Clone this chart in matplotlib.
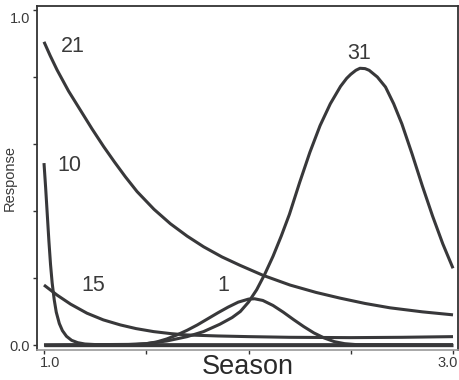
import matplotlib
matplotlib.use("Agg")
import matplotlib.pyplot as plt
from matplotlib.transforms import ScaledTranslation

plt.rcParams['font.family'] = ['Liberation Sans', 'DejaVu Sans']

# Response curves over the season (x = season, y = response)
x21 = [1.0, 1.03, 1.064, 1.12, 1.178, 1.235, 1.292, 1.345, 1.398, 1.455, 1.538, 1.618,
       1.70, 1.781, 1.87, 1.958, 2.071, 2.203, 2.33, 2.447, 2.57, 2.692, 2.85, 3.0]
y21 = [0.905, 0.864, 0.821, 0.758, 0.701, 0.645, 0.592, 0.546, 0.502, 0.458, 0.405, 0.362,
       0.325, 0.293, 0.263, 0.238, 0.208, 0.179, 0.157, 0.140, 0.124, 0.111, 0.099, 0.090]

x10 = [1.0, 1.008, 1.016, 1.024, 1.032, 1.04, 1.05, 1.06, 1.075, 1.09, 1.11, 1.135,
       1.165, 1.2, 1.26, 3.0]
y10 = [0.543, 0.47, 0.39, 0.31, 0.24, 0.185, 0.135, 0.098, 0.064, 0.043, 0.026, 0.014,
       0.007, 0.003, 0.001, 0.001]

x15 = [1.0, 1.064, 1.13, 1.21, 1.29, 1.373, 1.45, 1.536, 1.62, 1.699, 1.85, 2.0,
       2.2, 2.5, 2.75, 3.0]
y15 = [0.179, 0.149, 0.122, 0.095, 0.075, 0.060, 0.049, 0.040, 0.034, 0.030, 0.027, 0.025,
       0.023, 0.022, 0.023, 0.025]

x1 = [1.0, 1.45, 1.5, 1.55, 1.6, 1.65, 1.7, 1.75, 1.8, 1.85, 1.9, 1.95, 2.0, 2.03,
      2.07, 2.12, 2.17, 2.22, 2.27, 2.32, 2.37, 2.42, 2.47, 2.53, 3.0]
y1 = [0.0, 0.002, 0.004, 0.009, 0.018, 0.030, 0.044, 0.060, 0.078, 0.096, 0.113, 0.128,
      0.137, 0.138, 0.133, 0.118, 0.098, 0.076, 0.055, 0.036, 0.021, 0.010, 0.004, 0.001, 0.0]

x31 = [1.0, 1.4, 1.5, 1.6, 1.7, 1.78, 1.86, 1.92, 1.96, 2.0, 2.04, 2.08, 2.12, 2.16,
       2.2, 2.25, 2.3, 2.35, 2.4, 2.45, 2.48, 2.5, 2.525, 2.545, 2.57, 2.59, 2.63, 2.67,
       2.71, 2.75, 2.8, 2.85, 2.9, 2.95, 3.0]
y31 = [0.0, 0.001, 0.004, 0.012, 0.025, 0.040, 0.062, 0.082, 0.100, 0.128, 0.165, 0.212,
       0.265, 0.325, 0.39, 0.485, 0.575, 0.655, 0.72, 0.772, 0.796, 0.808, 0.820, 0.826,
       0.825, 0.820, 0.800, 0.770, 0.720, 0.660, 0.570, 0.475, 0.385, 0.302, 0.229]

# Curve labels and their positions (data coordinates)
curve_labels = ["21", "10", "15", "1", "31"]
label_x = [1.14, 1.125, 1.24, 1.875, 2.54]
label_y = [0.890, 0.537, 0.179, 0.179, 0.869]

x_ticks = [1.0, 1.5, 2.0, 2.5, 3.0]
x_ticklabels = ["1.0", "", "", "", "3.0"]
y_ticks = [0.0, 0.2, 0.4, 0.6, 0.8, 1.0]
y_ticklabels = ["0.0", "", "", "", "", "1.0"]

line_color = "#38383a"
text_color = "#3a3a3a"

fig = plt.figure(figsize=(4.6, 3.8), dpi=100)
ax = fig.add_axes([37 / 460, 30 / 380, 421 / 460, 344 / 380])

# baseline at zero response
ax.plot([1.0, 3.0], [0.0015, 0.0015], color=line_color, lw=2.4, solid_capstyle='butt')
for xs, ys in [(x21, y21), (x10, y10), (x15, y15), (x1, y1), (x31, y31)]:
    ax.plot(xs, ys, color=line_color, lw=2.2, solid_capstyle='butt',
            solid_joinstyle='round')

for t, lx, ly in zip(curve_labels, label_x, label_y):
    ax.text(lx, ly, t, fontsize=15.5, color=text_color, ha='center', va='center')

ax.set_xlim(0.9658, 3.0244)
ax.set_ylim(-0.0149, 1.0119)
ax.set_xticks(x_ticks)
ax.set_xticklabels(x_ticklabels)
ax.set_yticks(y_ticks)
ax.set_yticklabels(y_ticklabels)
ax.tick_params(axis='both', direction='out', length=3, width=1, color='#333333',
               labelsize=10.5, labelcolor=text_color, pad=2)
ax.tick_params(axis='x', pad=1)

# nudge the end tick labels so they sit inside the frame
dpi_tr = fig.dpi_scale_trans
xt = ax.get_xticklabels()
xt[0].set_transform(xt[0].get_transform() + ScaledTranslation(6 / 100, 0, dpi_tr))
xt[-1].set_transform(xt[-1].get_transform() + ScaledTranslation(-5 / 100, 0, dpi_tr))
yt = ax.get_yticklabels()
yt[-1].set_transform(yt[-1].get_transform() + ScaledTranslation(0, -8 / 100, dpi_tr))

for side in ['top', 'right', 'left']:
    ax.spines[side].set_color('#333333')
    ax.spines[side].set_linewidth(1.3)
ax.spines['bottom'].set_color('#9a9a9a')
ax.spines['bottom'].set_linewidth(1.2)

ax.set_xlabel("Season", fontsize=19.5, color='#2a2a2a')
ax.xaxis.label.set_va('bottom')
ax.xaxis.set_label_coords(0.501, -0.086)
ax.set_ylabel("Response", fontsize=10.5, color=text_color)
ax.yaxis.set_label_coords(-0.047, 0.5)

fig.savefig("out.png", dpi=100)
